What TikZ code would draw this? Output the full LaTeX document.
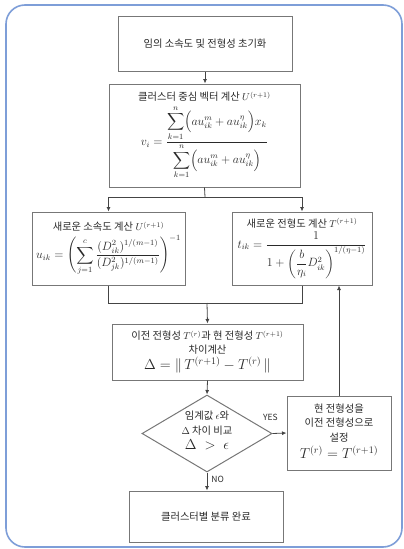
\documentclass[tikz,border=0pt]{standalone}
\usepackage[no-math]{fontspec}
\setmainfont{Noto Sans CJK KR}
\usepackage{amsmath}
\usetikzlibrary{arrows.meta,shapes.geometric}
\definecolor{framebl}{HTML}{7E9ED8}
\definecolor{boxgray}{HTML}{777777}
\definecolor{linegray}{HTML}{444444}
\definecolor{txt}{HTML}{2A2A2A}
\newcommand{\kr}{\fontsize{10.3}{12}\selectfont}
\newcommand{\mth}[1]{\fontsize{#1}{#1}\selectfont}
\newenvironment{cellstack}{\renewcommand{\arraystretch}{1}\setlength{\tabcolsep}{0pt}\begin{tabular}{c}}{\end{tabular}}
\begin{document}
\begin{tikzpicture}[x=1pt,y=-1pt,
  box/.style={draw=boxgray, line width=1pt, fill=white, inner sep=0pt, align=center, text=txt},
  decision/.style={draw=boxgray, line width=1pt, fill=white, diamond, inner sep=0pt},
  conn/.style={draw=linegray, line width=0.8pt},
  arr/.style={conn, -{Latex[length=4.5pt,width=4pt]}},
  lbl/.style={font=\fontsize{8.5}{9}\selectfont, text=txt, inner sep=1pt}]
\useasboundingbox (0,0) rectangle (404,549);
\draw[framebl, line width=1.6pt, rounded corners=19pt] (6,5) rectangle (402,547);

\node[box, minimum width=174pt, minimum height=55pt] (b1) at (205,43.5) {\kr 임의 소속도 및 전형성 초기화};

\node[box, minimum width=191pt, minimum height=103pt] (b2) at (204.5,135.5)
  {\begin{cellstack}
   \kr 클러스터 중심 벡터 계산 $U^{(r+1)}$\\[1pt]
   \mth{11.5}$\displaystyle v_i=\frac{\displaystyle\sum_{k=1}^{n}\Bigl(a u_{ik}^{m}+a u_{ik}^{\eta}\Bigr)x_k}{\displaystyle\sum_{k=1}^{n}\Bigl(a u_{ik}^{m}+a u_{ik}^{\eta}\Bigr)}$
   \end{cellstack}};

\node[box, minimum width=153pt, minimum height=73pt] (b3) at (108.5,248.5)
  {\begin{cellstack}
   \kr 새로운 소속도 계산 $U^{(r+1)}$\\[1pt]
   \mth{11.8}$\displaystyle u_{ik}=\left(\sum_{j=1}^{c}\frac{(D_{ik}^{2})^{1/(m-1)}}{(D_{jk}^{2})^{1/(m-1)}}\right)^{-1}$
   \end{cellstack}};

\node[box, minimum width=140pt, minimum height=73pt] (b4) at (302,248.5)
  {\begin{cellstack}
   \kr 새로운 전형도 계산 $T^{(r+1)}$\\[1pt]
   \mth{11.5}$\displaystyle t_{ik}=\frac{1}{1+\left(\dfrac{b}{\eta_i}D_{ik}^{2}\right)^{1/(\eta-1)}}$
   \end{cellstack}};

\node[box, minimum width=191pt, minimum height=56pt] (b5) at (207.5,352)
  {\begin{cellstack}
   \kr 이전 전형성 $T^{(r)}$과 현 전형성 $T^{(r+1)}$\\[1pt]
   \kr 차이계산\\[0pt]
   \mth{14}$\Delta=\|\,T^{(r+1)}-T^{(r)}\,\|$
   \end{cellstack}};

\node[decision, minimum width=130pt, minimum height=77pt] (d) at (207,433.5) {};
\node[text=txt, inner sep=0pt] (dt) at (207,432)
  {\begin{cellstack}
   \kr 임계값 $\epsilon$와\\[3pt]
   \kr $\Delta$ 차이 비교\\[1pt]
   \mth{14}$\Delta\;>\;\epsilon$
   \end{cellstack}};

\node[box, minimum width=104pt, minimum height=74pt] (b6) at (339,433)
  {\begin{cellstack}
   \kr 현 전형성을\\[2pt]
   \kr 이전 전형성으로\\[2pt]
   \kr 설정\\[1pt]
   \mth{14}$T^{(r)}=T^{(r+1)}$
   \end{cellstack}};

\node[box, minimum width=154pt, minimum height=51pt] (b7) at (206,516.5) {\kr 클러스터별 분류 완료};

\coordinate (s1) at (205,197);
\coordinate (s2) at (207,303);

\draw[arr] (b1.south) -- (b1.south |- b2.north);
\draw[conn] (b2.south) -- (s1);
\draw[arr] (s1) -| (b3.north);
\draw[arr] (s1) -| (b4.north);
\draw[conn] (b3.south) |- (s2);
\draw[conn] (b4.south) |- (s2);
\draw[arr] (s2) -- (b5.north);
\draw[arr] (b5.south) -- (d.north);
\draw[arr] (d.east) -- node[lbl, pos=0, xshift=-2pt, yshift=16pt] (yes) {YES} (b6.west);
\draw[arr] (b6.north) -- (b6.north |- b4.south);
\draw[arr] (d.south) -- node[lbl, right, pos=0.4, xshift=3pt] (no) {NO} (d.south |- b7.north);
\end{tikzpicture}
\end{document}
